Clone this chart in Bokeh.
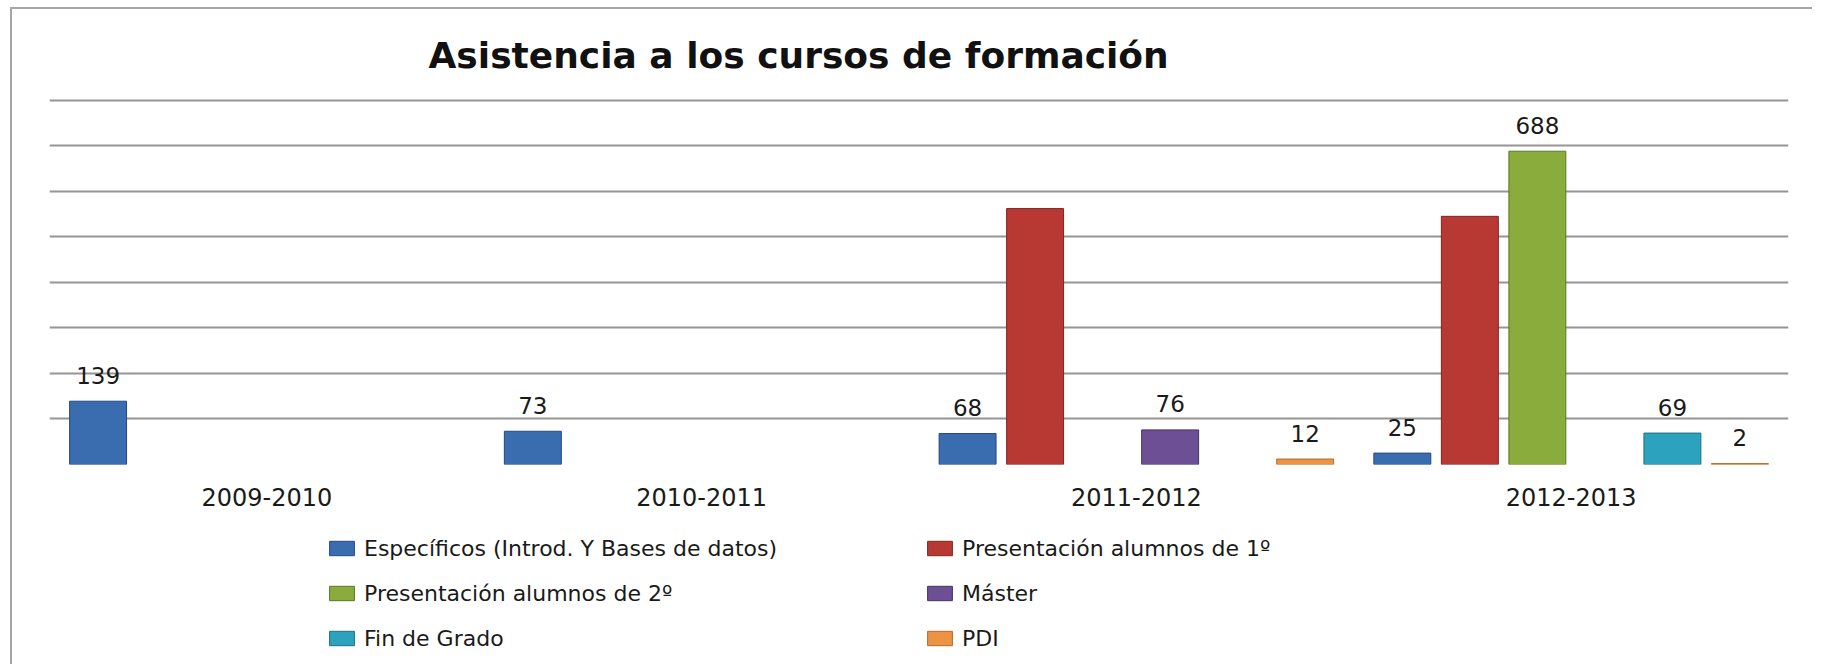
from bokeh.plotting import figure
from bokeh.models import (FactorRange, ColumnDataSource, Legend, LegendItem,
                          Range1d, FixedTicker)
from bokeh.layouts import column
from bokeh.transform import dodge
from bokeh.core.properties import value
from bokeh.embed import file_html
from bokeh.resources import INLINE

# ---------------- data ----------------
categories = ["2009-2010", "2010-2011", "2011-2012", "2012-2013"]
series_names = [
    "Específicos (Introd. Y Bases de datos)",
    "Presentación alumnos de 1º",
    "Presentación alumnos de 2º",
    "Máster",
    "Fin de Grado",
    "PDI",
]
especificos = [139, 73, 68, 25]
presentacion_1 = [0, 0, 562, 545]
presentacion_2 = [0, 0, 0, 688]
master = [0, 0, 76, 0]
fin_de_grado = [0, 0, 0, 69]
pdi = [0, 0, 12, 2]
series_values = [especificos, presentacion_1, presentacion_2, master, fin_de_grado, pdi]
series_labelled = [True, False, True, True, True, True]

colors = ["#3a6cb0", "#b83934", "#8aac3c", "#6d4f95", "#2da2bf", "#eb9444"]
edge_colors = ["#24497d", "#7d2420", "#5c7626", "#47325f", "#1c6f84", "#b66a25"]
y_ticks = [0, 100, 200, 300, 400, 500, 600, 700, 800]

FONT = "DejaVu Sans"

p = figure(
    x_range=FactorRange(*categories),
    y_range=Range1d(0, 806),
    frame_width=1739, frame_height=367,
    min_border_left=37, min_border_right=24,
    min_border_top=88, min_border_bottom=50,
    output_backend="svg", toolbar_location=None,
    y_axis_location=None,
)
p.outline_line_color = None
p.background_fill_color = "white"
p.border_fill_color = "white"

p.title.text = "Asistencia a los cursos de formación"
p.title.text_font = FONT
p.title.text_font_size = "36px"
p.title.text_font_style = "bold"
p.title.text_color = "#111111"
p.title.align = "left"
p.title.vertical_align = "top"
p.title.offset = 379
p.title.standoff = 40

p.xgrid.grid_line_color = None
p.ygrid.ticker = FixedTicker(ticks=y_ticks)
p.ygrid.grid_line_color = "#959595"
p.ygrid.grid_line_width = 2

p.xaxis.axis_line_color = None
p.xaxis.major_tick_line_color = None
p.xaxis.minor_tick_line_color = None
p.xaxis.major_label_text_font = FONT
p.xaxis.major_label_text_font_size = "24px"
p.xaxis.major_label_text_color = "#1a1a1a"
p.xaxis.major_label_standoff = 17

# legend lives in its own strip below the chart
pl = figure(
    x_range=Range1d(0, 1), y_range=Range1d(0, 1),
    width=1800, height=150, min_border=0,
    output_backend="svg", toolbar_location=None,
    x_axis_location=None, y_axis_location=None,
)
pl.outline_line_color = None
pl.grid.visible = False
pl.background_fill_color = "white"
pl.border_fill_color = "white"

slot = 0.1553
bar_w = 0.131
items = []
for i, (name, vals) in enumerate(zip(series_names, series_values)):
    cats = [c for c, v in zip(categories, vals) if v > 0]
    vs = [v for v in vals if v > 0]
    src = ColumnDataSource(dict(cat=cats, val=vs, lbl=[str(v) for v in vs]))
    off = (i - 2.5) * slot
    p.vbar(x=dodge("cat", off, range=p.x_range), top="val", width=bar_w,
           source=src, fill_color=colors[i], line_color=edge_colors[i],
           line_width=1)
    if series_labelled[i]:
        p.text(x=dodge("cat", off, range=p.x_range), y="val", text="lbl",
               source=src, text_align="center", text_baseline="alphabetic",
               y_offset=-26, text_font=value(FONT), text_font_size="23px",
               text_color="#1a1a1a")
    # legend proxy: one zero-height bar outside the strip's visible range
    proxy = pl.vbar(x=[-5], top=[0], width=0.1, fill_color=colors[i],
                    line_color=edge_colors[i], line_width=1)
    items.append(LegendItem(label=name, renderers=[proxy]))

legend = Legend(
    items=items, orientation="horizontal", ncols=2,
    location=(277, 10),
    label_text_font=FONT, label_text_font_size="22px", label_text_color="#1a1a1a",
    glyph_width=31, glyph_height=18, label_standoff=7,
    label_width=547, label_height=32, spacing=13, padding=5, margin=0,
    border_line_color=None, background_fill_alpha=0,
)
pl.add_layout(legend)

layout = column(p, pl, spacing=0)
layout.styles = {"border-top": "2px solid #a6a6a6", "border-left": "2px solid #a6a6a6",
                 "margin-left": "10px", "margin-top": "7px"}

open("out.html", "w").write(file_html(layout, INLINE))
